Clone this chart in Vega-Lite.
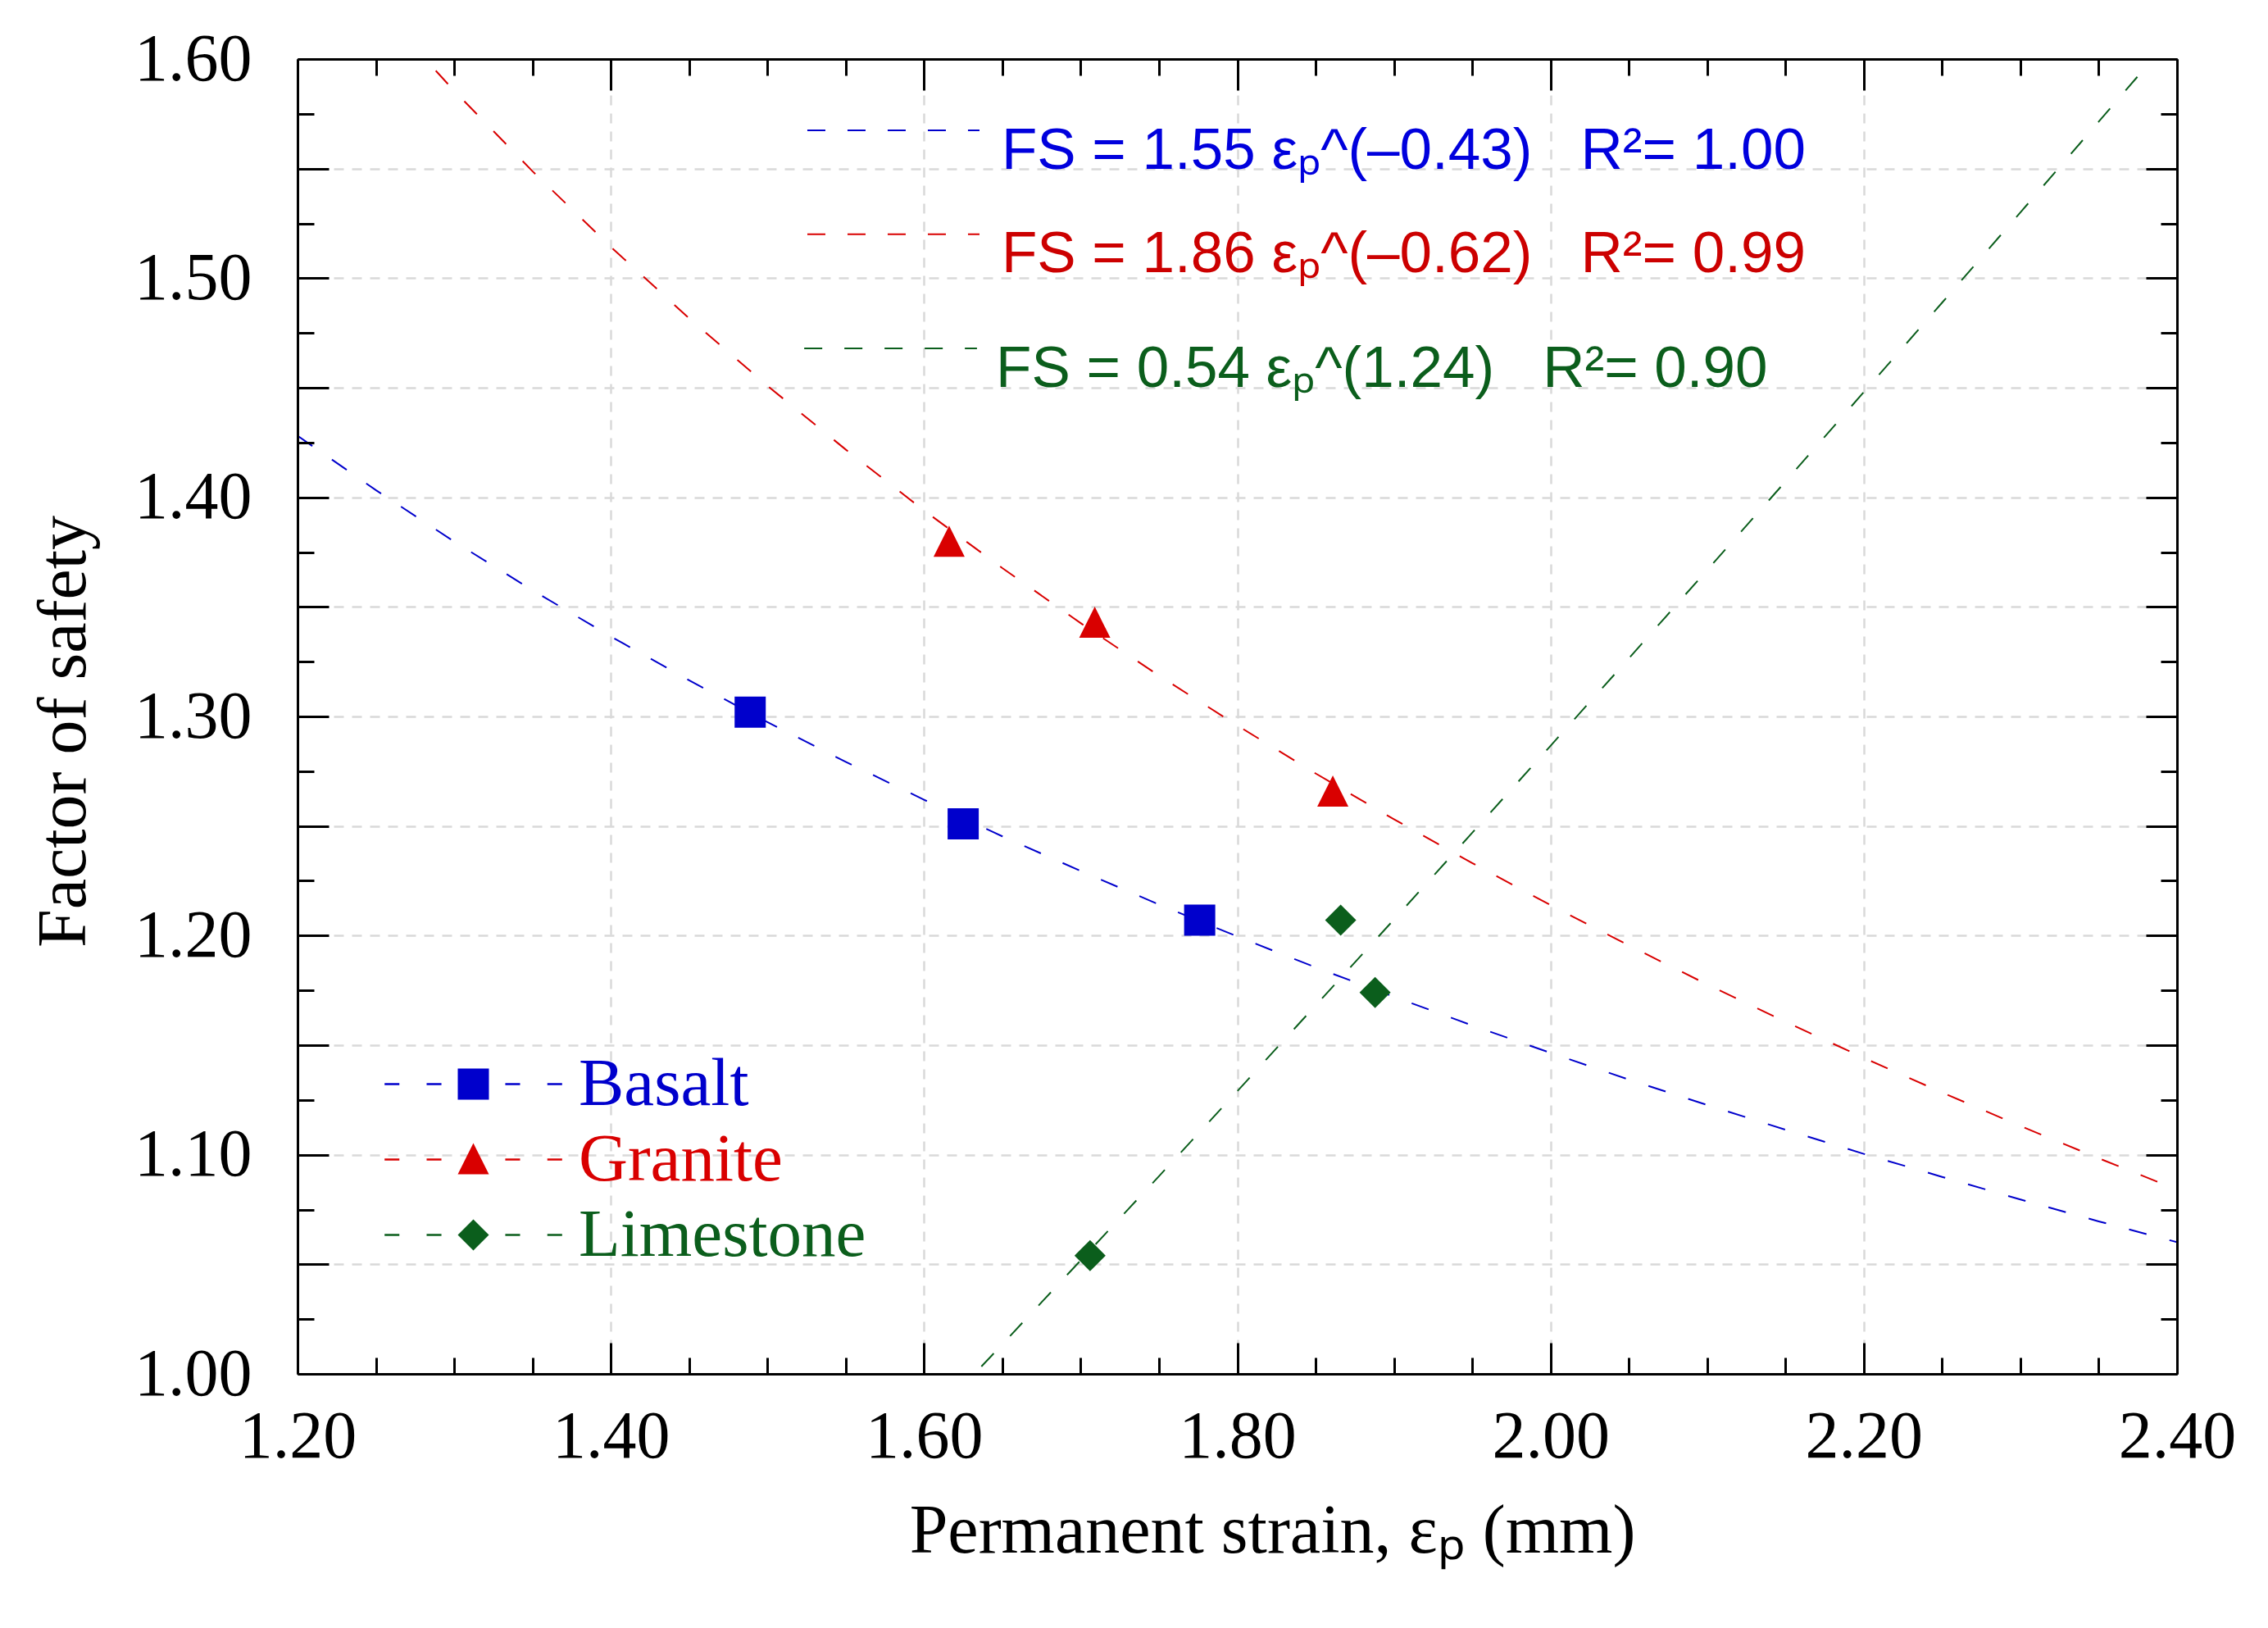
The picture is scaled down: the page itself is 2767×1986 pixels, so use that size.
{
  "$schema": "https://vega.github.io/schema/vega-lite/v6.json",
  "width": 2293,
  "height": 1604,
  "autosize": {"type": "none"},
  "padding": {"left": 363, "top": 72, "right": 111, "bottom": 310},
  "background": "white",
  "config": {
    "view": {"stroke": null},
    "font": "Liberation Serif",
    "axis": {
      "domainColor": "black",
      "domainWidth": 3,
      "tickColor": "black",
      "tickWidth": 3,
      "labelFont": "Liberation Serif",
      "labelFontSize": 82,
      "labelColor": "black",
      "labelFlush": false,
      "labelOverlap": false,
      "labelBound": false,
      "titleFont": "Liberation Serif",
      "titleFontSize": 84,
      "titleFontWeight": "normal",
      "titleColor": "black",
      "grid": false
    }
  },
  "datasets": {
    "curves": [
      {"material": "Basalt", "eps": 1.20, "fs": 1.4281},
      {"material": "Basalt", "eps": 1.25, "fs": 1.4033},
      {"material": "Basalt", "eps": 1.30, "fs": 1.3798},
      {"material": "Basalt", "eps": 1.35, "fs": 1.3576},
      {"material": "Basalt", "eps": 1.40, "fs": 1.3365},
      {"material": "Basalt", "eps": 1.45, "fs": 1.3165},
      {"material": "Basalt", "eps": 1.50, "fs": 1.2974},
      {"material": "Basalt", "eps": 1.55, "fs": 1.2793},
      {"material": "Basalt", "eps": 1.60, "fs": 1.2620},
      {"material": "Basalt", "eps": 1.65, "fs": 1.2453},
      {"material": "Basalt", "eps": 1.70, "fs": 1.2295},
      {"material": "Basalt", "eps": 1.75, "fs": 1.2142},
      {"material": "Basalt", "eps": 1.80, "fs": 1.1996},
      {"material": "Basalt", "eps": 1.85, "fs": 1.1855},
      {"material": "Basalt", "eps": 1.90, "fs": 1.1721},
      {"material": "Basalt", "eps": 1.95, "fs": 1.1590},
      {"material": "Basalt", "eps": 2.00, "fs": 1.1465},
      {"material": "Basalt", "eps": 2.05, "fs": 1.1343},
      {"material": "Basalt", "eps": 2.10, "fs": 1.1227},
      {"material": "Basalt", "eps": 2.15, "fs": 1.1114},
      {"material": "Basalt", "eps": 2.20, "fs": 1.1004},
      {"material": "Basalt", "eps": 2.25, "fs": 1.0899},
      {"material": "Basalt", "eps": 2.30, "fs": 1.0796},
      {"material": "Basalt", "eps": 2.35, "fs": 1.0696},
      {"material": "Basalt", "eps": 2.40, "fs": 1.0601},
      {"material": "Granite", "eps": 1.20, "fs": 1.6662},
      {"material": "Granite", "eps": 1.25, "fs": 1.6246},
      {"material": "Granite", "eps": 1.30, "fs": 1.5855},
      {"material": "Granite", "eps": 1.35, "fs": 1.5488},
      {"material": "Granite", "eps": 1.40, "fs": 1.5143},
      {"material": "Granite", "eps": 1.45, "fs": 1.4817},
      {"material": "Granite", "eps": 1.50, "fs": 1.4509},
      {"material": "Granite", "eps": 1.55, "fs": 1.4218},
      {"material": "Granite", "eps": 1.60, "fs": 1.3940},
      {"material": "Granite", "eps": 1.65, "fs": 1.3677},
      {"material": "Granite", "eps": 1.70, "fs": 1.3426},
      {"material": "Granite", "eps": 1.75, "fs": 1.3186},
      {"material": "Granite", "eps": 1.80, "fs": 1.2959},
      {"material": "Granite", "eps": 1.85, "fs": 1.2740},
      {"material": "Granite", "eps": 1.90, "fs": 1.2531},
      {"material": "Granite", "eps": 1.95, "fs": 1.2331},
      {"material": "Granite", "eps": 2.00, "fs": 1.2139},
      {"material": "Granite", "eps": 2.05, "fs": 1.1955},
      {"material": "Granite", "eps": 2.10, "fs": 1.1777},
      {"material": "Granite", "eps": 2.15, "fs": 1.1607},
      {"material": "Granite", "eps": 2.20, "fs": 1.1442},
      {"material": "Granite", "eps": 2.25, "fs": 1.1284},
      {"material": "Granite", "eps": 2.30, "fs": 1.1131},
      {"material": "Granite", "eps": 2.35, "fs": 1.0984},
      {"material": "Granite", "eps": 2.40, "fs": 1.0841},
      {"material": "Limestone", "eps": 1.60, "fs": 0.9756},
      {"material": "Limestone", "eps": 1.65, "fs": 1.0135},
      {"material": "Limestone", "eps": 1.70, "fs": 1.0518},
      {"material": "Limestone", "eps": 1.75, "fs": 1.0902},
      {"material": "Limestone", "eps": 1.80, "fs": 1.1290},
      {"material": "Limestone", "eps": 1.85, "fs": 1.1681},
      {"material": "Limestone", "eps": 1.90, "fs": 1.2073},
      {"material": "Limestone", "eps": 1.95, "fs": 1.2469},
      {"material": "Limestone", "eps": 2.00, "fs": 1.2866},
      {"material": "Limestone", "eps": 2.05, "fs": 1.3265},
      {"material": "Limestone", "eps": 2.10, "fs": 1.3668},
      {"material": "Limestone", "eps": 2.15, "fs": 1.4072},
      {"material": "Limestone", "eps": 2.20, "fs": 1.4480},
      {"material": "Limestone", "eps": 2.25, "fs": 1.4888},
      {"material": "Limestone", "eps": 2.30, "fs": 1.5300},
      {"material": "Limestone", "eps": 2.35, "fs": 1.5714},
      {"material": "Limestone", "eps": 2.40, "fs": 1.6129}
    ],
    "points": [
      {"material": "Basalt", "eps": 1.489, "fs": 1.302},
      {"material": "Basalt", "eps": 1.625, "fs": 1.251},
      {"material": "Basalt", "eps": 1.776, "fs": 1.207},
      {"material": "Granite", "eps": 1.616, "fs": 1.380},
      {"material": "Granite", "eps": 1.709, "fs": 1.343},
      {"material": "Granite", "eps": 1.861, "fs": 1.266},
      {"material": "Limestone", "eps": 1.706, "fs": 1.054},
      {"material": "Limestone", "eps": 1.866, "fs": 1.207},
      {"material": "Limestone", "eps": 1.888, "fs": 1.174}
    ],
    "materials": [
      {"material": "Basalt"},
      {"material": "Granite"},
      {"material": "Limestone"}
    ]
  },
  "layer": [
    {
      "data": {"name": "curves"},
      "mark": {"type": "line", "clip": true, "strokeWidth": 2, "strokeDash": [22, 29]},
      "encoding": {
        "x": {
          "field": "eps",
          "type": "quantitative",
          "scale": {"domain": [1.2, 2.4], "nice": false, "zero": false},
          "axis": {
            "orient": "bottom",
            "values": [1.2, 1.4, 1.6, 1.8, 2.0, 2.2, 2.4],
            "format": ".2f",
            "tickSize": -38,
            "labelPadding": 139,
            "labelBaseline": "alphabetic",
            "title": "Permanent strain, εₚ (mm)",
            "titleX": 1189,
            "titleY": 217,
            "titleAlign": "center",
            "titleBaseline": "alphabetic",
            "zindex": 1
          }
        },
        "y": {
          "field": "fs",
          "type": "quantitative",
          "scale": {"domain": [1.0, 1.6], "nice": false, "zero": false},
          "axis": {
            "orient": "left",
            "values": [1.0, 1.05, 1.1, 1.15, 1.2, 1.25, 1.3, 1.35, 1.4, 1.45, 1.5, 1.55, 1.6],
            "labelExpr": "round(datum.value * 100) % 10 === 0 ? format(datum.value, '.2f') : ''",
            "tickSize": -38,
            "labelPadding": 94,
            "title": "Factor of safety",
            "titleX": -260,
            "titleY": 820,
            "titleAngle": -90,
            "titleAlign": "center",
            "titleBaseline": "alphabetic",
            "zindex": 1
          }
        },
        "color": {
          "field": "material",
          "type": "nominal",
          "scale": {"domain": ["Basalt", "Granite", "Limestone"], "range": ["#0000cc", "#d90000", "#0b5e1c"]},
          "legend": null
        }
      }
    },
    {
      "data": {"name": "points"},
      "mark": {"type": "point", "filled": true, "size": 1444, "opacity": 1, "strokeWidth": 0},
      "encoding": {
        "x": {
          "field": "eps",
          "type": "quantitative",
          "scale": {"domain": [1.2, 2.4], "nice": false, "zero": false},
          "axis": {
            "orient": "bottom",
            "values": [1.25, 1.3, 1.35, 1.45, 1.5, 1.55, 1.65, 1.7, 1.75, 1.85, 1.9, 1.95, 2.05, 2.1, 2.15, 2.25, 2.3, 2.35],
            "tickSize": -20,
            "labels": false,
            "domain": false,
            "title": null,
            "zindex": 1
          }
        },
        "y": {
          "field": "fs",
          "type": "quantitative",
          "scale": {"domain": [1.0, 1.6], "nice": false, "zero": false},
          "axis": {
            "orient": "left",
            "values": [1.025, 1.075, 1.125, 1.175, 1.225, 1.275, 1.325, 1.375, 1.425, 1.475, 1.525, 1.575],
            "tickSize": -20,
            "labels": false,
            "domain": false,
            "title": null,
            "zindex": 1
          }
        },
        "color": {
          "field": "material",
          "type": "nominal",
          "scale": {"domain": ["Basalt", "Granite", "Limestone"], "range": ["#0000cc", "#d90000", "#0b5e1c"]},
          "legend": null
        },
        "shape": {
          "field": "material",
          "type": "nominal",
          "scale": {"domain": ["Basalt", "Granite", "Limestone"], "range": ["square", "M0,-1L1,1L-1,1Z", "diamond"]},
          "legend": null
        }
      }
    },
    {
      "data": {"values": [{}]},
      "mark": {"type": "rule", "strokeWidth": 2, "strokeDash": [22, 27], "color": "#0000cc"},
      "encoding": {
        "x": {
          "datum": 1.5255,
          "type": "quantitative",
          "scale": {"domain": [1.2, 2.4], "nice": false, "zero": false},
          "axis": {
            "orient": "top",
            "values": [1.2, 1.4, 1.6, 1.8, 2.0, 2.2, 2.4],
            "tickSize": -38,
            "labels": false,
            "title": null,
            "zindex": 1
          }
        },
        "x2": {"datum": 1.6354},
        "y": {
          "datum": 1.5675,
          "type": "quantitative",
          "scale": {"domain": [1.0, 1.6], "nice": false, "zero": false},
          "axis": {
            "orient": "right",
            "values": [1.0, 1.05, 1.1, 1.15, 1.2, 1.25, 1.3, 1.35, 1.4, 1.45, 1.5, 1.55, 1.6],
            "tickSize": -38,
            "labels": false,
            "title": null,
            "zindex": 1
          }
        }
      }
    },
    {
      "data": {"values": [{}]},
      "mark": {"type": "rule", "strokeWidth": 2, "strokeDash": [22, 27], "color": "#d90000"},
      "encoding": {
        "x": {
          "datum": 1.5255,
          "type": "quantitative",
          "scale": {"domain": [1.2, 2.4], "nice": false, "zero": false},
          "axis": {
            "orient": "bottom",
            "values": [1.4, 1.6, 1.8, 2.0, 2.2],
            "grid": true,
            "gridColor": "#d9d9d9",
            "gridWidth": 2.5,
            "gridDash": [12, 10],
            "ticks": false,
            "labels": false,
            "domain": false,
            "title": null,
            "zindex": 0
          }
        },
        "x2": {"datum": 1.6354},
        "y": {
          "datum": 1.520,
          "type": "quantitative",
          "scale": {"domain": [1.0, 1.6], "nice": false, "zero": false},
          "axis": {
            "orient": "left",
            "values": [1.05, 1.1, 1.15, 1.2, 1.25, 1.3, 1.35, 1.4, 1.45, 1.5, 1.55],
            "grid": true,
            "gridColor": "#d9d9d9",
            "gridWidth": 2.5,
            "gridDash": [12, 10],
            "ticks": false,
            "labels": false,
            "domain": false,
            "title": null,
            "zindex": 0
          }
        }
      }
    },
    {
      "data": {"values": [{}]},
      "mark": {"type": "rule", "strokeWidth": 2, "strokeDash": [22, 27], "color": "#0b5e1c"},
      "encoding": {
        "x": {
          "datum": 1.5235,
          "type": "quantitative",
          "scale": {"domain": [1.2, 2.4], "nice": false, "zero": false},
          "axis": {
            "orient": "top",
            "values": [1.25, 1.3, 1.35, 1.45, 1.5, 1.55, 1.65, 1.7, 1.75, 1.85, 1.9, 1.95, 2.05, 2.1, 2.15, 2.25, 2.3, 2.35],
            "tickSize": -20,
            "labels": false,
            "domain": false,
            "title": null,
            "zindex": 1
          }
        },
        "x2": {"datum": 1.6338},
        "y": {
          "datum": 1.468,
          "type": "quantitative",
          "scale": {"domain": [1.0, 1.6], "nice": false, "zero": false},
          "axis": {
            "orient": "right",
            "values": [1.025, 1.075, 1.125, 1.175, 1.225, 1.275, 1.325, 1.375, 1.425, 1.475, 1.525, 1.575],
            "tickSize": -20,
            "labels": false,
            "domain": false,
            "title": null,
            "zindex": 1
          }
        }
      }
    },
    {
      "data": {"values": [{"label": "FS = 1.55 εₚ^(–0.43)\u00a0\u00a0\u00a0R²= 1.00"}]},
      "mark": {"type": "text", "align": "left", "baseline": "alphabetic", "font": "Liberation Sans", "fontSize": 71, "color": "#0000dd"},
      "encoding": {
        "x": {"datum": 1.6495, "type": "quantitative", "axis": null},
        "y": {"datum": 1.5499, "type": "quantitative", "axis": null},
        "text": {"field": "label"}
      }
    },
    {
      "data": {"values": [{"label": "FS = 1.86 εₚ^(–0.62)\u00a0\u00a0\u00a0R²= 0.99"}]},
      "mark": {"type": "text", "align": "left", "baseline": "alphabetic", "font": "Liberation Sans", "fontSize": 71, "color": "#cc0000"},
      "encoding": {
        "x": {"datum": 1.6495, "type": "quantitative", "axis": null},
        "y": {"datum": 1.5027, "type": "quantitative", "axis": null},
        "text": {"field": "label"}
      }
    },
    {
      "data": {"values": [{"label": "FS = 0.54 εₚ^(1.24)\u00a0\u00a0\u00a0R²= 0.90"}]},
      "mark": {"type": "text", "align": "left", "baseline": "alphabetic", "font": "Liberation Sans", "fontSize": 71, "color": "#0b5e1c"},
      "encoding": {
        "x": {"datum": 1.6459, "type": "quantitative", "axis": null},
        "y": {"datum": 1.4504, "type": "quantitative", "axis": null},
        "text": {"field": "label"}
      }
    },
    {
      "data": {"name": "materials"},
      "mark": {
        "type": "point",
        "filled": true,
        "opacity": 0,
        "color": {"expr": "(datum.value || datum.material) === 'Basalt' ? '#0000cc' : (datum.value || datum.material) === 'Granite' ? '#d90000' : '#0b5e1c'"}
      },
      "encoding": {
        "shape": {
          "field": "material",
          "type": "nominal",
          "scale": {
            "domain": ["Basalt", "Granite", "Limestone"],
            "range": [
              "M-5.7,-0.06H-4.75V0.06H-5.7Z M-3,-0.06H-2.05V0.06H-3Z M2.05,-0.06H3V0.06H2.05Z M4.75,-0.06H5.7V0.06H4.75Z M-1,-1H1V1H-1Z",
              "M-5.7,-0.06H-4.75V0.06H-5.7Z M-3,-0.06H-2.05V0.06H-3Z M2.05,-0.06H3V0.06H2.05Z M4.75,-0.06H5.7V0.06H4.75Z M0,-1.05L1,0.95H-1Z",
              "M-5.7,-0.06H-4.75V0.06H-5.7Z M-3,-0.06H-2.05V0.06H-3Z M2.05,-0.06H3V0.06H2.05Z M4.75,-0.06H5.7V0.06H4.75Z M0,-1L1,0L0,1L-1,0Z"
            ]
          },
          "legend": {
            "orient": "none",
            "legendX": 173,
            "legendY": 1209,
            "title": null,
            "padding": 0,
            "symbolSize": 1444,
            "symbolStrokeWidth": 0,
            "labelFont": "Liberation Serif",
            "labelFontSize": 83,
            "labelOffset": 87,
            "labelLimit": 1000,
            "rowPadding": 8,
            "labelColor": {"expr": "datum.value === 'Basalt' ? '#0000cc' : datum.value === 'Granite' ? '#d90000' : '#0b5e1c'"}
          }
        }
      }
    }
  ],
  "resolve": {
    "scale": {"shape": "independent"},
    "axis": {"x": "independent", "y": "independent"}
  }
}
